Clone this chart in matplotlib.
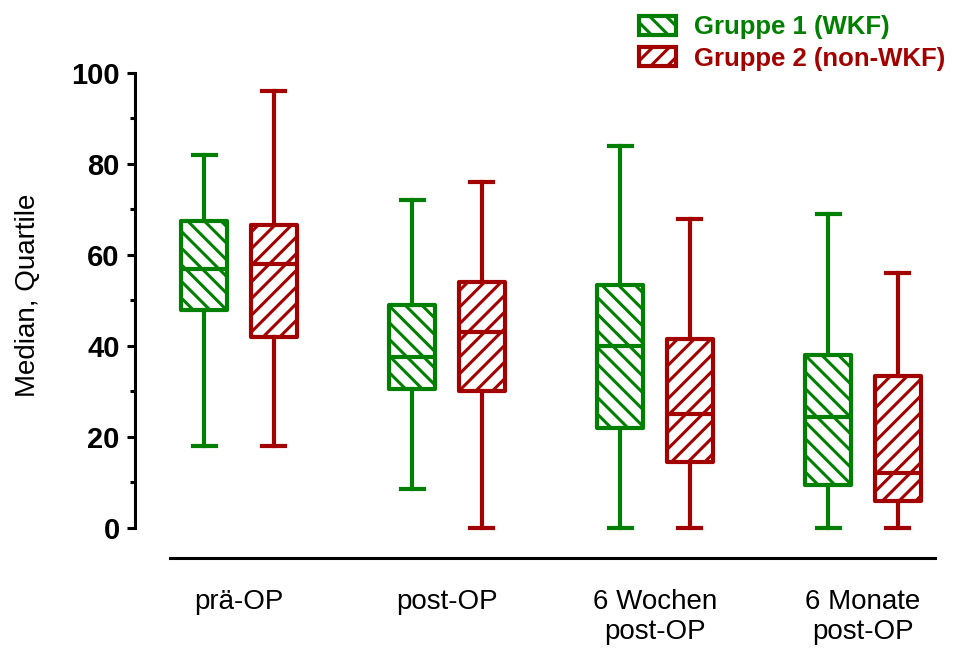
import matplotlib
matplotlib.use("Agg")
import matplotlib.pyplot as plt
from matplotlib.patches import Patch

plt.rcParams['font.family'] = ['Liberation Sans', 'DejaVu Sans']
plt.rcParams['hatch.linewidth'] = 2.2

categories = ["prä-OP", "post-OP", "6 Wochen\npost-OP", "6 Monate\npost-OP"]
groups = ["Gruppe 1 (WKF)", "Gruppe 2 (non-WKF)"]

# min, q1, median, q3, max per category
g1_min = [18, 8.5, 0, 0]
g1_q1 = [48, 30.5, 22, 9.5]
g1_med = [57, 37.5, 40, 24.5]
g1_q3 = [67.5, 49, 53.5, 38]
g1_max = [82, 72, 84, 69]

g2_min = [18, 0, 0, 0]
g2_q1 = [42, 30, 14.5, 6]
g2_med = [58, 43, 25, 12]
g2_q3 = [66.5, 54, 41.5, 33.5]
g2_max = [96, 76, 68, 56]

green = "#008000"
red = "#A30000"


def make_stats(mins, q1s, meds, q3s, maxs):
    return [dict(whislo=a, q1=b, med=c, q3=d, whishi=e)
            for a, b, c, d, e in zip(mins, q1s, meds, q3s, maxs)]


fig = plt.figure(figsize=(9.56, 6.5), dpi=100)
ax = fig.add_axes([135/956, (650-558)/650, 800/956, (558-73)/650])

off = 0.168
w = 0.221
for stats, col, hatch, sign in [
        (make_stats(g1_min, g1_q1, g1_med, g1_q3, g1_max), green, "\\\\", -1),
        (make_stats(g2_min, g2_q1, g2_med, g2_q3, g2_max), red, "//", 1)]:
    pos = [i + sign * off for i in range(len(categories))]
    b = ax.bxp(stats, positions=pos, widths=w, showfliers=False,
               patch_artist=True,
               boxprops=dict(facecolor="white", edgecolor=col, linewidth=3, hatch=hatch),
               medianprops=dict(color=col, linewidth=3),
               whiskerprops=dict(color=col, linewidth=3),
               capprops=dict(color=col, linewidth=3),
               manage_ticks=False)
    for box in b["boxes"]:
        box.set_joinstyle("round")
        box.set_clip_on(False)
    for k in ["whiskers", "caps", "medians"]:
        for ln in b[k]:
            ln.set_clip_on(False)

ax.set_xlim(-0.5, 3.346)
ax.set_ylim(-6.6, 100)
ax.spines["top"].set_visible(False)
ax.spines["right"].set_visible(False)
ax.spines["left"].set_bounds(0, 100)
ax.spines["bottom"].set_bounds(-0.332, 3.346)
ax.spines["left"].set_linewidth(2.2)
ax.spines["bottom"].set_linewidth(2.2)

ax.set_yticks(range(0, 101, 20))
ax.set_yticks(range(10, 100, 20), minor=True)
ax.tick_params(axis="y", which="major", length=6, width=2.2, pad=5, labelsize=21)
ax.tick_params(axis="y", which="minor", length=3.5, width=2.2)
for lab in ax.get_yticklabels():
    lab.set_fontweight("bold")

ax.set_xticks(range(len(categories)))
ax.set_xticklabels(categories, fontsize=20)
ax.tick_params(axis="x", length=0, pad=22)

ax.set_ylabel("Median, Quartile", fontsize=20)
ax.yaxis.set_label_coords(-0.117, 0.542)

handles = [Patch(facecolor="white", edgecolor=green, hatch="\\\\", linewidth=3),
           Patch(facecolor="white", edgecolor=red, hatch="//", linewidth=3)]
fig.legend(handles, groups, loc="upper left", bbox_to_anchor=(616/956, 1.0123),
           frameon=False, prop=dict(size=18.5, weight="bold"),
           labelcolor=[green, red], handlelength=1.45, handleheight=0.75,
           labelspacing=0.3, handletextpad=0.7)

fig.savefig("out.png", dpi=100)
